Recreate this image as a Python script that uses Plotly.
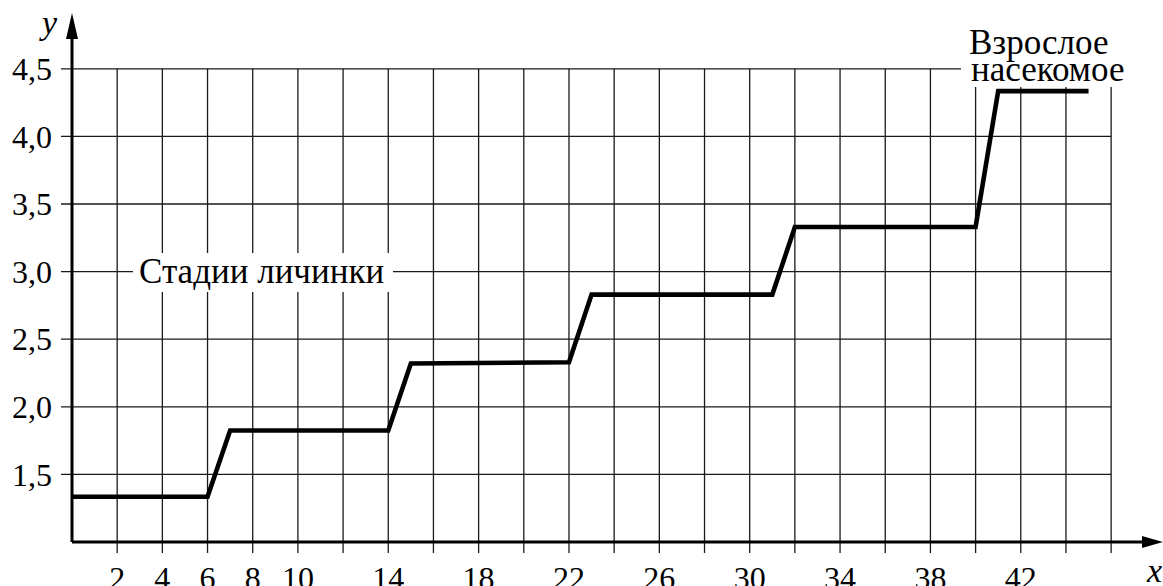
import plotly.graph_objects as go

# ---- data ----
days = [0, 6, 7, 14, 15, 22, 23, 31, 32, 40, 41, 45]
size = [1.335, 1.335, 1.825, 1.825, 2.32, 2.33, 2.83, 2.83, 3.33, 3.33, 4.335, 4.335]

x_grid = list(range(2, 47, 2))
x_tick_vals = [2, 4, 6, 8, 10, 14, 18, 22, 26, 30, 34, 38, 42]
x_tick_text = [str(v) for v in x_tick_vals]
y_grid = [1.5, 2.0, 2.5, 3.0, 3.5, 4.0, 4.5]
y_tick_text = ["1,5", "2,0", "2,5", "3,0", "3,5", "4,0", "4,5"]

label_larva = "Стадии личинки"
label_adult = ["Взрослое", "насекомое"]

# ---- layout geometry ----
W, H = 1163, 586
ML, MR, MT, MB = 60, 0, 0, 30
X0PX, Y1PX = 72, 542          # pixel of x=0 and y=1
PX_X = 22.59                  # pixels per x unit
PX_Y = 135.2                  # pixels per y unit
PW, PH = W - ML - MR, H - MT - MB
xmin = -(X0PX - ML) / PX_X
xmax = xmin + PW / PX_X
ymin = 1 - ((H - MB) - Y1PX) / PX_Y
ymax = 1 + (Y1PX - MT) / PX_Y

def dx(p):
    return p / PX_X

def dy(p):
    return p / PX_Y

def xd(px):
    return (px - X0PX) / PX_X

def yd(py):
    return 1 + (Y1PX - py) / PX_Y

def paper_x(px):
    return (px - ML) / PW

def paper_y(py):
    return ((H - MB) - py) / PH

FONT = "Liberation Serif"
BLACK = "#000000"
GRID = "#1a1a1a"

fig = go.Figure()
fig.add_trace(go.Scatter(x=days, y=size, mode="lines",
                         line=dict(color=BLACK, width=4.6),
                         hoverinfo="skip", showlegend=False))

shapes = []
tick_len = 11
for gx in x_grid:
    shapes.append(dict(type="line", xref="x", yref="y", x0=gx, x1=gx,
                       y0=1 - dy(tick_len), y1=y_grid[-1],
                       line=dict(color=GRID, width=1.3), layer="below"))
for gy in y_grid:
    shapes.append(dict(type="line", xref="x", yref="y", x0=-dx(tick_len), x1=x_grid[-1],
                       y0=gy, y1=gy, line=dict(color=GRID, width=1.3), layer="below"))
# white boxes behind the labels
shapes.append(dict(type="rect", xref="x", yref="y", x0=xd(133), x1=xd(393),
                   y0=yd(292), y1=yd(253), fillcolor="white", line=dict(width=0),
                   layer="below"))
shapes.append(dict(type="rect", xref="x", yref="y", x0=xd(961), x1=xd(1130),
                   y0=yd(87), y1=yd(52), fillcolor="white", line=dict(width=0),
                   layer="below"))
# axes with arrows
shapes.append(dict(type="line", xref="x", yref="y", x0=0, x1=0, y0=1, y1=1 + dy(Y1PX - 30),
                   line=dict(color=BLACK, width=3)))
shapes.append(dict(type="line", xref="x", yref="y", x0=0, x1=xmax - dx(12), y0=1, y1=1,
                   line=dict(color=BLACK, width=3)))
ytip = 1 + dy(Y1PX - 13)
ybase = 1 + dy(Y1PX - 39)
shapes.append(dict(type="path", xref="x", yref="y",
                   path=f"M {-dx(6)} {ybase} L {dx(6)} {ybase} L 0 {ytip} Z",
                   fillcolor=BLACK, line=dict(color=BLACK, width=0)))
xtip = xmax
xbase = xmax - dx(21)
shapes.append(dict(type="path", xref="x", yref="y",
                   path=f"M {xbase} {1 - dy(6)} L {xbase} {1 + dy(6)} L {xtip} 1 Z",
                   fillcolor=BLACK, line=dict(color=BLACK, width=0)))

ANN = 35
annotations = [
    dict(x=xd(261), y=3.0, xref="x", yref="y", text=label_larva, showarrow=False,
         font=dict(family=FONT, size=ANN, color=BLACK),
         borderpad=0, xanchor="center", yanchor="middle"),
    dict(x=xd(1047), y=yd(69), xref="x", yref="y", text=label_adult[1],
         showarrow=False, font=dict(family=FONT, size=ANN, color=BLACK),
         borderpad=0, xanchor="center", yanchor="middle"),
    dict(x=xd(1039), y=yd(42), xref="x", yref="y", text=label_adult[0],
         showarrow=False, font=dict(family=FONT, size=ANN, color=BLACK),
         borderpad=0, xanchor="center", yanchor="middle"),
    dict(x=paper_x(48), y=paper_y(23), xref="paper", yref="paper", text="<i>y</i>",
         showarrow=False, font=dict(family=FONT, size=34, color=BLACK),
         xanchor="center", yanchor="middle"),
    dict(x=paper_x(1164), y=paper_y(570), xref="paper", yref="paper", text="<i>x</i>",
         showarrow=False, font=dict(family=FONT, size=34, color=BLACK),
         xanchor="right", yanchor="middle"),
]

fig.update_layout(
    width=W, height=H,
    margin=dict(l=ML, r=MR, t=MT, b=MB, autoexpand=False),
    paper_bgcolor="white", plot_bgcolor="white",
    font=dict(family=FONT, size=32, color=BLACK),
    shapes=shapes, annotations=annotations,
    xaxis=dict(range=[xmin, xmax], showgrid=False, zeroline=False, showline=False,
               tickvals=x_tick_vals, ticktext=x_tick_text, ticks="",
               tickfont=dict(family=FONT, size=32, color=BLACK),
               ticklabelstandoff=0, automargin=False, fixedrange=True),
    yaxis=dict(range=[ymin, ymax], showgrid=False, zeroline=False, showline=False,
               tickvals=y_grid, ticktext=y_tick_text, ticks="",
               tickfont=dict(family=FONT, size=32, color=BLACK),
               ticklabelstandoff=7, automargin=False, fixedrange=True),
)

fig.write_html("out.html", config={"displayModeBar": False},
               post_script="document.body.style.margin='0px';")
